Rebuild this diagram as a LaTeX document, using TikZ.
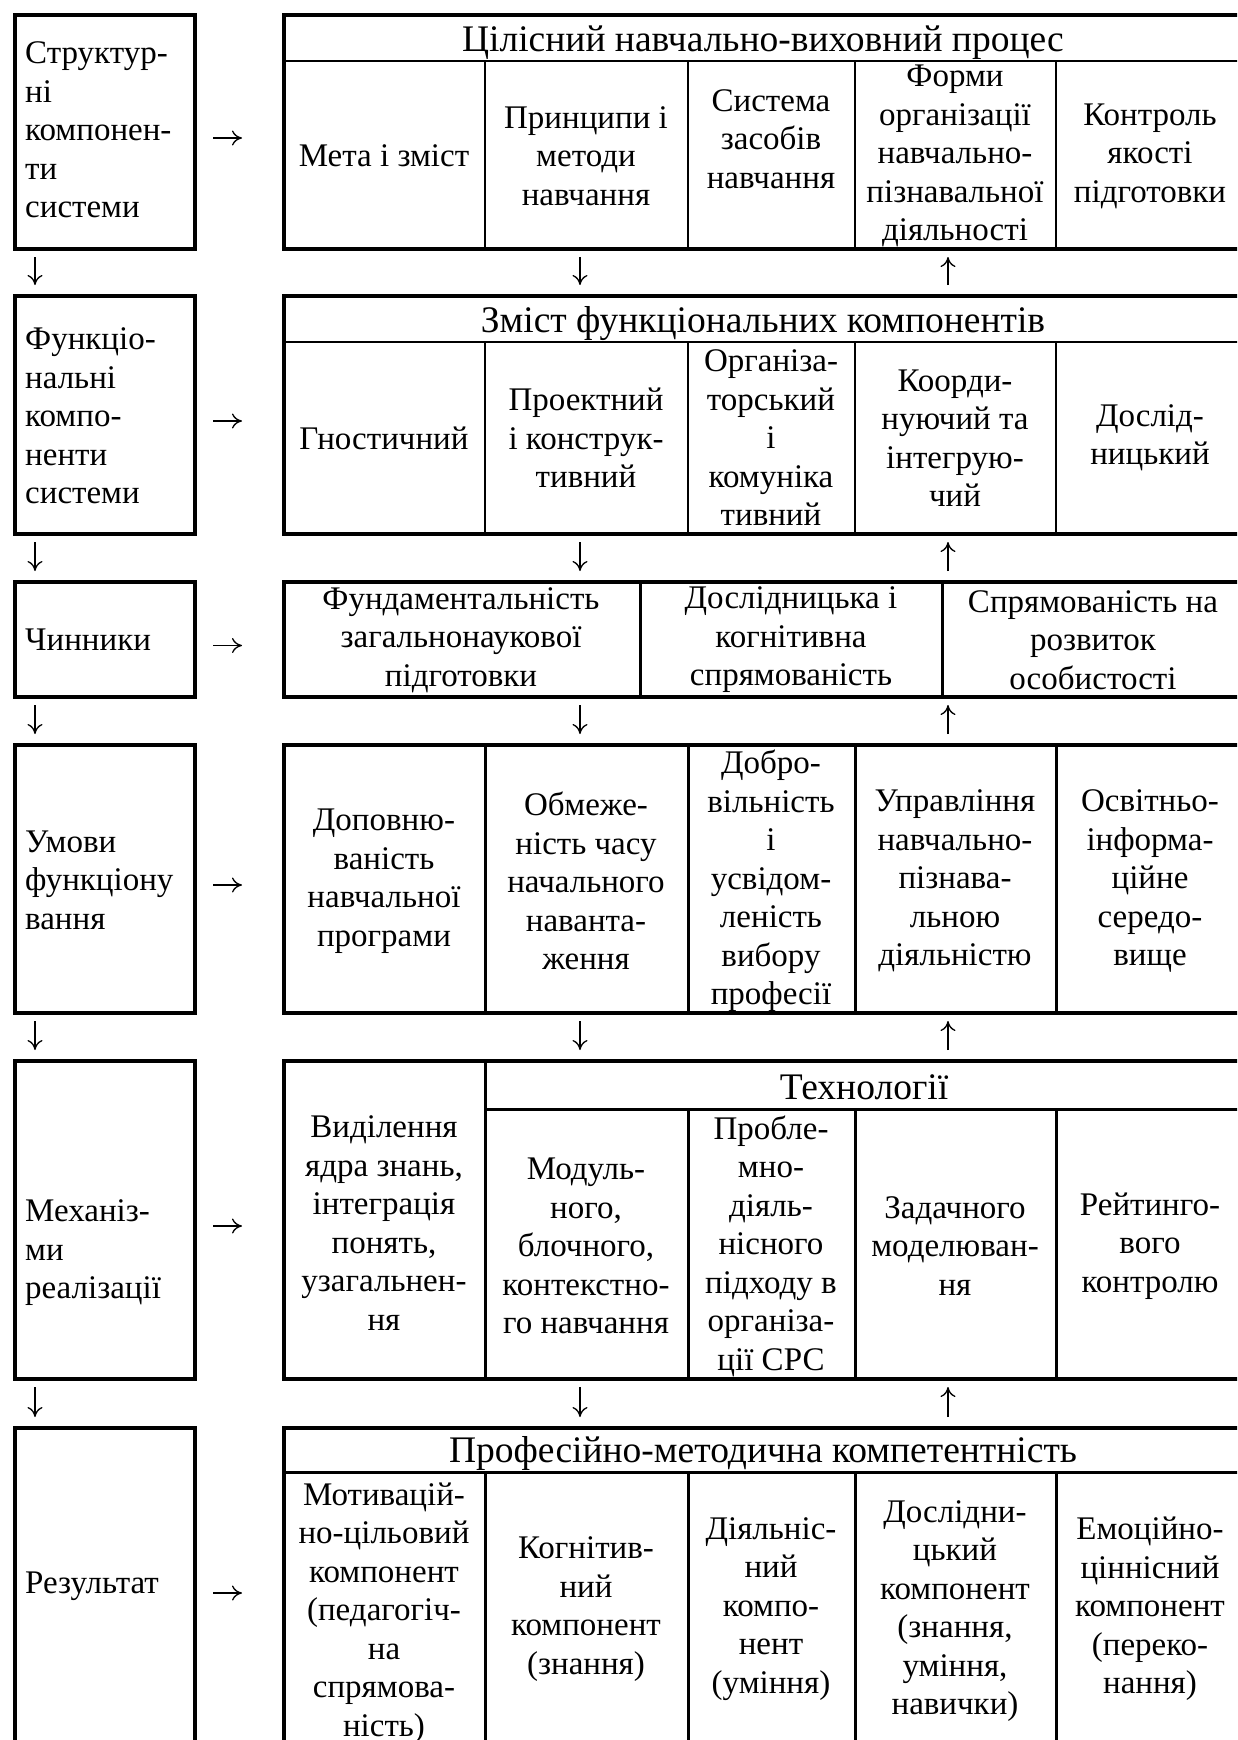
\documentclass[tikz,border=0pt]{standalone}
\usepackage{fontspec}
\setmainfont{Liberation Serif}
\usetikzlibrary{arrows.meta}
\tikzset{
  framebox/.style={draw, line width=4pt, inner sep=0pt, fill=none},
  lbox/.style={framebox, minimum width=180pt},
  rbox/.style={framebox, minimum width=958pt},
  thinsep/.style={line width=2pt},
  midsep/.style={line width=3pt},
  cell/.style={align=center, inner sep=0pt, font=\fontsize{33}{38.5}\selectfont},
  headtxt/.style={align=center, inner sep=0pt, anchor=base, font=\fontsize{37.5}{42}\selectfont},
  sidetxt/.style={align=left, anchor=west, inner sep=0pt, font=\fontsize{33}{38.5}\selectfont},
  arr/.style={line width=1.3pt, -{Computer Modern Rightarrow[length=10pt,width=15pt]}}
}
\begin{document}
\begin{tikzpicture}[x=1pt,y=-1pt]
\clip (0,0) rectangle (1237,1740);

% ---- inner cell borders ----
% row 1
\draw[thinsep] (284,61) -- (1242,61);
\foreach \cx in {485,688,855,1056} \draw[thinsep] (\cx,61) -- (\cx,249);
% row 2
\draw[thinsep] (284,342) -- (1242,342);
\foreach \cx in {485,688,855,1056} \draw[thinsep] (\cx,342) -- (\cx,534);
% row 3
\foreach \cx in {640,942} \draw[midsep] (\cx,582) -- (\cx,697);
% row 4
\foreach \cx in {485,688,855,1056} \draw[midsep] (\cx,745) -- (\cx,1013);
% row 5
\draw[midsep] (485,1061) -- (485,1379);
\draw[midsep] (485,1109) -- (1242,1109);
\foreach \cx in {688,855,1056} \draw[midsep] (\cx,1109) -- (\cx,1379);
% row 6
\draw[midsep] (284,1472) -- (1242,1472);
\foreach \cx in {485,688,855,1056} \draw[midsep] (\cx,1472) -- (\cx,1746);

% ---- outer frames ----
\node[lbox, minimum height=234pt] (L1) at (105,132) {};
\node[rbox, minimum height=234pt] (R1) at (763,132) {};
\node[lbox, minimum height=238pt] (L2) at (105,415) {};
\node[rbox, minimum height=238pt] (R2) at (763,415) {};
\node[lbox, minimum height=115pt] (L3) at (105,639.5) {};
\node[rbox, minimum height=115pt] (R3) at (763,639.5) {};
\node[lbox, minimum height=268pt] (L4) at (105,879) {};
\node[rbox, minimum height=268pt] (R4) at (763,879) {};
\node[lbox, minimum height=318pt] (L5) at (105,1220) {};
\node[rbox, minimum height=318pt] (R5) at (763,1220) {};
\node[lbox, minimum height=318pt] (L6) at (105,1587) {};
\node[rbox, minimum height=318pt] (R6) at (763,1587) {};

% ---- left column labels ----
\node[sidetxt] (l1) at (25,130) {Структур-\\ні\\компонен-\\ти\\системи};
\node[sidetxt] (l2) at (25,416) {Функціо-\\нальні\\компо-\\ненти\\системи};
\node[sidetxt] (l3) at (25,640) {Чинники};
\node[sidetxt] (l4) at (25,880) {Умови\\функціону\\вання};
\node[sidetxt] (l5) at (25,1253) {Механіз-\\ми\\реалізації};
\node[sidetxt] (l6) at (25,1586) {Результат};

% ---- row 1 ----
\node[headtxt] (t1) at (763,51) {Цілісний навчально-виховний процес};
\node[cell] (a1) at (384,156) {Мета і зміст};
\node[cell] (a2) at (586,156) {Принципи і\\методи\\навчання};
\node[cell] (a3) at (771,139) {Система\\засобів\\навчання};
\node[cell] (a4) at (955,156) {Форми\\організації\\навчально-\\пізнавальної\\діяльності};
\node[cell] (a5) at (1150,156) {Контроль\\якості\\підготовки};

% ---- row 2 ----
\node[headtxt] (t2) at (763,332) {Зміст функціональних компонентів};
\node[cell] (b1) at (384,438) {Гностичний};
\node[cell] (b2) at (586,438) {Проектний\\і конструк-\\тивний};
\node[cell] (b3) at (771,438) {Організа-\\торський\\і\\комуніка\\тивний};
\node[cell] (b4) at (955,438) {Коорди-\\нуючий та\\інтегрую-\\чий};
\node[cell] (b5) at (1150,438) {Дослід-\\ницький};

% ---- row 3 ----
\node[cell] (c1) at (461,640) {Фундаментальність\\загальнонаукової\\підготовки};
\node[cell] (c2) at (791,640) {Дослідницька і\\когнітивна\\спрямованість};
\node[cell] (c3) at (1093,640) {Спрямованість на\\розвиток\\особистості};

% ---- row 4 ----
\node[cell] (d1) at (384,881) {Доповню-\\ваність\\навчальної\\програми};
\node[cell] (d2) at (586,881) {Обмеже-\\ність часу\\начального\\наванта-\\ження};
\node[cell] (d3) at (771,881) {Добро-\\вільність\\і\\усвідом-\\леність\\вибору\\професії};
\node[cell] (d4) at (955,881) {Управління\\навчально-\\пізнава-\\льною\\діяльністю};
\node[cell] (d5) at (1150,881) {Освітньо-\\інформа-\\ційне\\середо-\\вище};

% ---- row 5 ----
\node[headtxt] (t5) at (864,1099) {Технології};
\node[cell] (e1) at (384,1223) {Виділення\\ядра знань,\\інтеграція\\понять,\\узагальнен-\\ня};
\node[cell] (e2) at (586,1246) {Модуль-\\ного,\\блочного,\\контекстно-\\го навчання};
\node[cell] (e3) at (771,1246) {Пробле-\\мно-\\діяль-\\нісного\\підходу в\\організа-\\ції СРС};
\node[cell] (e4) at (955,1246) {Задачного\\моделюван-\\ня};
\node[cell] (e5) at (1150,1246) {Рейтинго-\\вого\\контролю};

% ---- row 6 ----
\node[headtxt] (t6) at (763,1462) {Професійно-методична компетентність};
\node[cell] (f1) at (384,1613) {Мотивацій-\\но-цільовий\\компонент\\(педагогіч-\\на\\спрямова-\\ність)};
\node[cell] (f2) at (586,1609) {Когнітив-\\ний\\компонент\\(знання)};
\node[cell] (f3) at (771,1609) {Діяльніс-\\ний\\компо-\\нент\\(уміння)};
\node[cell] (f4) at (955,1611) {Дослідни-\\цький\\компонент\\(знання,\\уміння,\\навички)};
\node[cell] (f5) at (1150,1609) {Емоційно-\\ціннісний\\компонент\\(переко-\\нання)};

% ---- arrows: left label to its row ----
\foreach \r in {1,...,6}
  \draw[arr] ([xshift=16pt,yshift=-6pt]L\r.east) -- ([xshift=-40pt,yshift=-6pt]R\r.west);

% ---- arrows between consecutive rows ----
\foreach \a/\b in {1/2,2/3,3/4,4/5,5/6} {
  \draw[arr] ([xshift=22pt,yshift=-6pt]L\a.south west) -- ([xshift=22pt,yshift=9pt]L\b.north west);
  \draw[arr] ([xshift=298pt,yshift=-6pt]R\a.south west) -- ([xshift=298pt,yshift=9pt]R\b.north west);
  \draw[arr] ([xshift=666pt,yshift=9pt]R\b.north west) -- ([xshift=666pt,yshift=-6pt]R\a.south west);
}
\end{tikzpicture}
\end{document}
